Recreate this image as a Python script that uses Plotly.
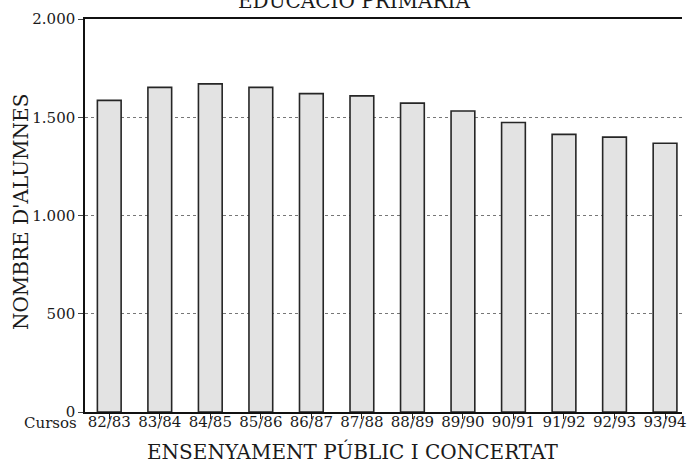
import plotly.graph_objects as go

cursos = ["82/83", "83/84", "84/85", "85/86", "86/87", "87/88",
          "88/89", "89/90", "90/91", "91/92", "92/93", "93/94"]
alumnes = [1586, 1652, 1670, 1652, 1620, 1609, 1572, 1532, 1473, 1413, 1399, 1368]
y_ticks = [0, 500, 1000, 1500, 2000]

titol = "EDUCACIÓ PRIMÀRIA"
titol_x = "ENSENYAMENT PÚBLIC I CONCERTAT"
titol_y = "NOMBRE D'ALUMNES"

FONT = "DejaVu Serif"

W, H = 687, 468
L, R, T, B = 85, 0, 19, 56
pw, ph = W - L - R, H - T - B


def px(x):
    return (x - L) / pw


def py(y):
    return (H - B - y) / ph


fig = go.Figure()
fig.add_trace(go.Bar(
    x=list(range(len(cursos))), y=alumnes,
    marker=dict(color="#e3e3e3", line=dict(color="#262626", width=1.6)),
    width=0.47,
))

fig.update_layout(
    width=W, height=H,
    margin=dict(l=L, r=R, t=T, b=B, pad=0),
    paper_bgcolor="white", plot_bgcolor="white",
    separators=",.",
    showlegend=False,
    font=dict(family=FONT, color="#1a1a1a", size=15),
)

fig.update_xaxes(
    range=[-0.48, -0.48 + pw / 50.95],
    tickmode="array", tickvals=list(range(len(cursos))), ticktext=cursos,
    tickson="boundaries", ticks="outside", ticklen=5, tickwidth=1,
    tickcolor="#222", ticklabelstandoff=-10, ticklabeloverflow="allow",
    showline=True, linecolor="#111", linewidth=1.5, mirror=True,
    showgrid=False, zeroline=False,
    tickfont=dict(family=FONT, size=15, color="#1a1a1a"),
)

fig.update_yaxes(
    range=[0, 2000],
    tickmode="array", tickvals=y_ticks, tickformat=",d",
    ticks="outside", ticklen=5, tickwidth=1, tickcolor="#444",
    showline=True, linecolor="#111", linewidth=1.5,
    showgrid=True, gridcolor="#777", griddash="dot", gridwidth=1,
    zeroline=False,
    tickfont=dict(family=FONT, size=15, color="#1a1a1a"),
)

fig.add_annotation(text=titol, xref="paper", yref="paper",
                   x=px(356), y=py(1), xanchor="center", yanchor="middle",
                   showarrow=False, font=dict(family=FONT, size=20, color="#1a1a1a"))
fig.add_annotation(text=titol_x, xref="paper", yref="paper",
                   x=px(355), y=py(451), xanchor="center", yanchor="middle",
                   showarrow=False, font=dict(family=FONT, size=20, color="#1a1a1a"))
fig.add_annotation(text=titol_y, xref="paper", yref="paper",
                   x=px(20.5), y=py(212), xanchor="center", yanchor="middle",
                   textangle=-90,
                   showarrow=False, font=dict(family=FONT, size=20, color="#1a1a1a"))
fig.add_annotation(text="Cursos", xref="paper", yref="paper",
                   x=px(79), y=py(423), xanchor="right", yanchor="middle",
                   showarrow=False, font=dict(family=FONT, size=15, color="#1a1a1a"))

fig.write_html("out.html", config={"displayModeBar": False},
               post_script="document.body.style.margin='0';")
